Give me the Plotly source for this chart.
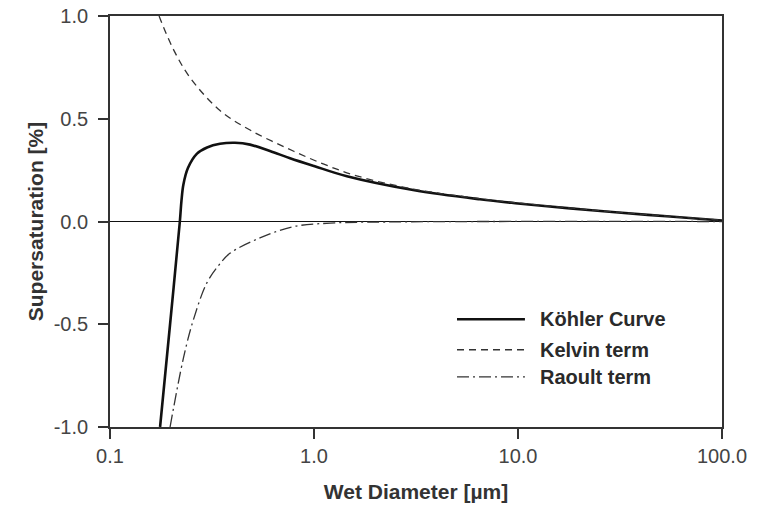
import plotly.graph_objects as go

# Wet diameter [µm] and supersaturation [%] for each curve
diam_kohler = [0.176, 0.197, 0.220, 0.224, 0.229, 0.241, 0.267, 0.299, 0.346,
               0.410, 0.486, 0.608, 0.763, 1.0, 1.45, 3.06, 6.5, 10.0, 18.0,
               30.0, 55.6, 100.0]
ss_kohler = [-1.0, -0.5, 0.0, 0.10, 0.18, 0.26, 0.33, 0.36, 0.378,
             0.383, 0.374, 0.343, 0.308, 0.27, 0.22, 0.153, 0.108, 0.088, 0.064,
             0.045, 0.024, 0.005]

diam_kelvin = [0.174, 0.204, 0.247, 0.346, 0.486, 0.737, 1.11, 1.62,
               3.06, 6.5, 10.0, 18.0, 30.0, 55.6, 100.0]
ss_kelvin = [1.0, 0.84, 0.70, 0.54, 0.445, 0.357, 0.28, 0.222,
             0.158, 0.111, 0.09, 0.066, 0.046, 0.025, 0.006]

diam_raoult = [0.197, 0.229, 0.256, 0.298, 0.34, 0.387, 0.543, 0.792,
               1.2, 2.5, 100.0]
ss_raoult = [-1.0, -0.665, -0.48, -0.30, -0.215, -0.155, -0.08, -0.025,
             -0.008, -0.002, 0.0]

legend_names = ["Köhler Curve", "Kelvin term", "Raoult term"]
x_ticks = [0.1, 1.0, 10.0, 100.0]
x_tick_text = ["0.1", "1.0", "10.0", "100.0"]
y_ticks = [-1.0, -0.5, 0.0, 0.5, 1.0]
y_tick_text = ["-1.0", "-0.5", "0.0", "0.5", "1.0"]

FONT = "Liberation Sans, Arial, sans-serif"
KELVIN_DASH = "7px,5px"
RAOULT_DASH = "12px,4px,2px,4px"

styles = [
    dict(color="#111111", width=2.6, dash="solid"),
    dict(color="#333333", width=1.3, dash=KELVIN_DASH),
    dict(color="#333333", width=1.3, dash=RAOULT_DASH),
]

fig = go.Figure()
for xs, ys, name, st in zip([diam_kohler, diam_kelvin, diam_raoult],
                            [ss_kohler, ss_kelvin, ss_raoult],
                            legend_names, styles):
    fig.add_trace(go.Scatter(x=xs, y=ys, mode="lines", name=name,
                             line=dict(shape="spline", smoothing=1.0, **st),
                             showlegend=False))

# Legend drawn inside the plot: line sample plus bold label per row
legend_rows_y = [0.262, 0.188, 0.122]
for yy, name, st in zip(legend_rows_y, legend_names, styles):
    fig.add_shape(type="line", xref="paper", yref="paper",
                  x0=0.567, x1=0.678, y0=yy, y1=yy,
                  line=dict(color=st["color"], width=st["width"], dash=st["dash"]))
    fig.add_annotation(xref="paper", yref="paper", x=0.700, y=yy,
                       text="<b>%s</b>" % name, showarrow=False,
                       xanchor="left", yanchor="middle",
                       font=dict(family=FONT, size=20, color="#2a2a2a"))

axis_common = dict(showline=True, linecolor="#333333", linewidth=1.8, mirror=True,
                   ticks="outside", ticklen=10, tickwidth=1.5, tickcolor="#333333",
                   showgrid=False, automargin=False,
                   tickfont=dict(family=FONT, size=20, color="#444444"))

fig.update_xaxes(type="log", range=[-1, 2], tickvals=x_ticks, ticktext=x_tick_text,
                 title=dict(text="<b>Wet Diameter [µm]</b>", standoff=18,
                            font=dict(family=FONT, size=21, color="#333333")),
                 zeroline=False, **axis_common)
fig.update_yaxes(range=[-1.0, 1.0], tickvals=y_ticks, ticktext=y_tick_text,
                 zeroline=True, zerolinecolor="#111111", zerolinewidth=1.2,
                 ticklabelstandoff=6,
                 title=dict(text="<b>Supersaturation [%]</b>", standoff=4,
                            font=dict(family=FONT, size=21, color="#333333")),
                 **axis_common)

fig.update_layout(width=763, height=507, autosize=False,
                  margin=dict(l=110, r=41, t=16, b=80),
                  paper_bgcolor="white", plot_bgcolor="white",
                  showlegend=False)

fig.write_html("out.html")
